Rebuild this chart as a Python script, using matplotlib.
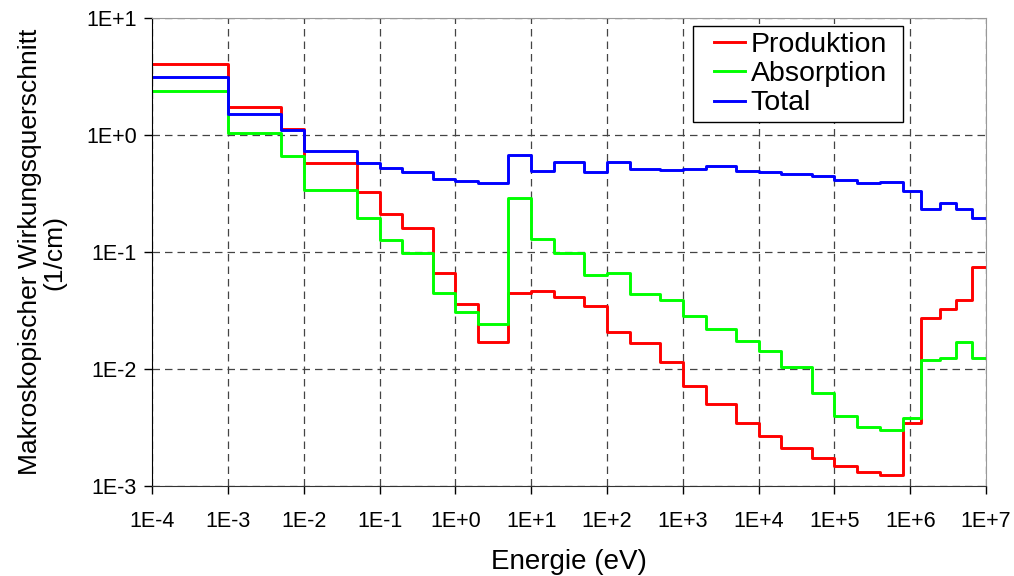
import numpy as np
import matplotlib
matplotlib.use("Agg")
import matplotlib.pyplot as plt
from matplotlib.lines import Line2D
from matplotlib.legend_handler import HandlerLine2D

# Gruppengrenzen (eV), 31 Gruppen
edges = [1e-4, 1e-3, 5e-3, 1e-2, 5e-2, 1e-1, 2e-1, 5e-1, 1, 2, 5, 10, 20, 50,
         100, 200, 500, 1e3, 2e3, 5e3, 1e4, 2e4, 5e4, 1e5, 2e5, 4e5, 8e5,
         1.4e6, 2.5e6, 4e6, 6.5e6, 1e7]

produktion = [4.05, 1.75, 1.12, 0.573, 0.328, 0.211, 0.161, 0.0658, 0.0361,
              0.0171, 0.0443, 0.0461, 0.041, 0.0345, 0.0209, 0.0168, 0.0115,
              0.0072, 0.00506, 0.00345, 0.00267, 0.0021, 0.00173, 0.00149,
              0.00131, 0.00124, 0.00343, 0.0275, 0.0324, 0.0389, 0.0748]

absorption = [2.39, 1.03, 0.66, 0.339, 0.194, 0.127, 0.0986, 0.0443, 0.0305,
              0.0243, 0.288, 0.129, 0.0986, 0.0636, 0.0657, 0.0435, 0.0389,
              0.0286, 0.0221, 0.0175, 0.0143, 0.0103, 0.00628, 0.00399,
              0.00318, 0.00301, 0.00379, 0.0119, 0.0125, 0.0169, 0.0123]

total = [3.11, 1.50, 1.10, 0.73, 0.58, 0.519, 0.483, 0.424, 0.407, 0.391,
         0.675, 0.496, 0.583, 0.48, 0.592, 0.512, 0.502, 0.512, 0.543, 0.49,
         0.485, 0.466, 0.443, 0.41, 0.387, 0.397, 0.332, 0.232, 0.262, 0.234,
         0.194]

xticks = [10.0 ** k for k in range(-4, 8)]
xlabels = ["1E-4", "1E-3", "1E-2", "1E-1", "1E+0", "1E+1", "1E+2", "1E+3",
           "1E+4", "1E+5", "1E+6", "1E+7"]
yticks = [1e-3, 1e-2, 1e-1, 1, 10]
ylabels = ["1E-3", "1E-2", "1E-1", "1E+0", "1E+1"]

plt.rcParams['font.family'] = ['Liberation Sans', 'DejaVu Sans']

fig = plt.figure(figsize=(10.14, 5.76), dpi=100)
ax = fig.add_axes([0.15, 0.15625, 0.8224, 0.8125])

def stufen(werte):
    return list(werte) + [werte[-1]]

ax.step(edges, stufen(produktion), where="post", color="#ff0000", lw=2.1, label="Produktion")
ax.step(edges, stufen(absorption), where="post", color="#00ff00", lw=2.1, label="Absorption")
ax.step(edges, stufen(total), where="post", color="#0000ff", lw=2.1, label="Total")

ax.set_xscale("log")
ax.set_yscale("log")
ax.set_xlim(1e-4, 1e7)
ax.set_ylim(1e-3, 10)
ax.set_xticks(xticks)
ax.set_xticklabels(xlabels)
ax.set_yticks(yticks)
ax.set_yticklabels(ylabels)
ax.minorticks_off()
ax.tick_params(axis="both", labelsize=15.5, direction="out", length=6, width=1)
ax.tick_params(axis="x", pad=12)
ax.tick_params(axis="y", pad=5)

ax.grid(True, which="major", color="#444444", linestyle=(0, (6, 4)), lw=0.9)
for s in ["top", "right"]:
    ax.spines[s].set_color("#999999")
ax.spines["left"].set_color("black")
ax.spines["bottom"].set_color("#333333")

ax.set_xlabel("Energie (eV)", fontsize=20, labelpad=12)
ax.set_ylabel("Makroskopischer Wirkungsquerschnitt\n(1/cm)", fontsize=19,
              linespacing=1.05, labelpad=14)

leg = ax.legend(loc="upper left", bbox_to_anchor=(0.6487, 0.0, 0.2518, 0.983),
                mode="expand", fontsize=20.5,
                frameon=True, fancybox=False, edgecolor="black", framealpha=1,
                handlelength=1.62, handletextpad=0.2, labelspacing=0.12,
                borderpad=0.2, borderaxespad=0,
                handler_map={Line2D: HandlerLine2D(xpad=0.53)})
leg.get_frame().set_linewidth(1)

fig.savefig("out.png", dpi=100)
